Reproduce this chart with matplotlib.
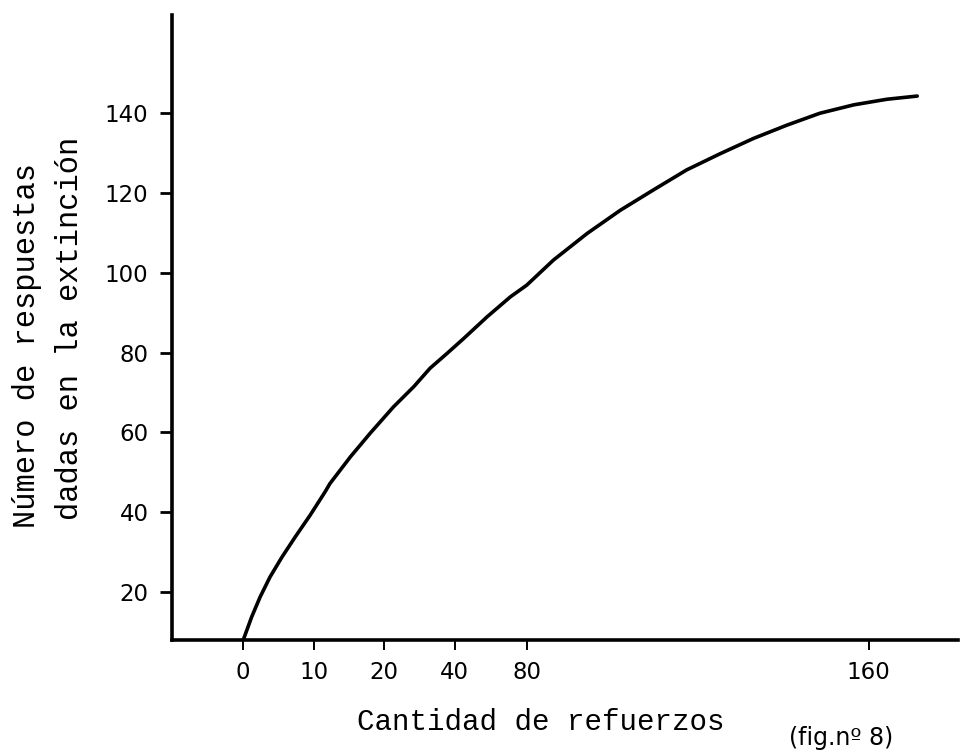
'''
Curva de extincion: respuestas dadas segun la cantidad de refuerzos.
'''
# imports
import matplotlib
matplotlib.use('Agg')
import matplotlib.pyplot as plt

# variables
# x is drawn on an uneven hand scale, so each tick has a position on the axis
tick_labels = ['0', '10', '20', '40', '80', '160']
tick_pos = [0, 1.0, 2.0, 3.0, 4.03, 8.87]

y_ticks = [20, 40, 60, 80, 100, 120, 140]

# points (axis position, number of responses)
curve_pos = [0, 0.12, 0.24, 0.38, 0.55, 0.74, 0.95, 1.16, 1.23, 1.52,
             1.80, 2.13, 2.42, 2.65, 2.89, 3.13, 3.46, 3.79, 4.02, 4.40,
             4.88, 5.35, 5.82, 6.29, 6.77, 7.24, 7.71, 8.18, 8.66, 9.13,
             9.56]
curve_val = [8.0, 13.8, 18.8, 23.8, 28.8, 33.9, 39.3, 45.1, 47.2, 53.9,
             59.8, 66.4, 71.5, 76.1, 79.8, 83.6, 89.0, 94.0, 96.9, 103.2,
             109.9, 115.7, 120.8, 125.8, 129.9, 133.7, 137.0, 140.0, 142.1,
             143.5, 144.3]

mono = 'Liberation Mono'


def graph():
    '''
    Draws the figure and saves it.
    '''
    fig = plt.figure(figsize=(9.61, 7.56), dpi=100)
    ax = fig.add_axes([0.179, 0.1534, 0.818, 0.8267])

    ax.plot(curve_pos, curve_val, color='black', linewidth=2.6,
            solid_capstyle='round', solid_joinstyle='round')

    ax.set_xlim(-1.01, 10.14)
    ax.set_ylim(8, 164.6)

    # only the two hand drawn axes
    ax.spines['top'].set_visible(False)
    ax.spines['right'].set_visible(False)
    for side in ['left', 'bottom']:
        ax.spines[side].set_linewidth(2.6)
        ax.spines[side].set_color('black')

    ax.set_xticks(tick_pos)
    ax.set_xticklabels(tick_labels)
    ax.set_yticks(y_ticks)
    ax.tick_params(axis='x', direction='out', length=7, width=1.4,
                   pad=8, labelsize=16.5)
    ax.tick_params(axis='y', direction='out', length=9, width=2.0,
                   pad=8, labelsize=16.5)

    # y label is two typewritten lines
    fig.text(27 / 961, 1 - 345 / 756, 'Número de respuestas',
             rotation=90, ha='center', va='center',
             family=mono, fontsize=22)
    fig.text(70 / 961, 1 - 328 / 756, 'dadas en la extinción',
             rotation=90, ha='center', va='center',
             family=mono, fontsize=22)

    fig.text(541 / 961, 1 - 722 / 756, 'Cantidad de refuerzos',
             ha='center', va='center', family=mono, fontsize=21)
    fig.text(841 / 961, 1 - 738 / 756, '(fig.nº 8)',
             ha='center', va='center', fontsize=17)

    plt.savefig('out.png', dpi=100)


graph()
